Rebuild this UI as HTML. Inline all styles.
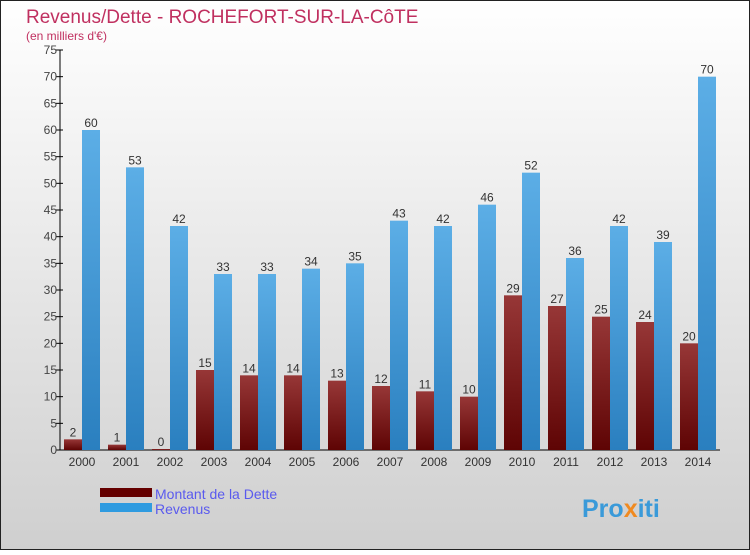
<!DOCTYPE html>
<html><head><meta charset="utf-8"><style>
body{margin:0}
svg text{font-family:"Liberation Sans",sans-serif}
</style></head><body>
<svg width="750" height="550" xmlns="http://www.w3.org/2000/svg">
<defs>
<linearGradient id="bg" x1="0" y1="0" x2="0" y2="1"><stop offset="0" stop-color="#ffffff"/><stop offset="1" stop-color="#cfcfcf"/></linearGradient>
<linearGradient id="gd" x1="0" y1="0" x2="0" y2="1"><stop offset="0" stop-color="#973737"/><stop offset="1" stop-color="#5e0404"/></linearGradient>
<linearGradient id="gr" x1="0" y1="0" x2="0" y2="1"><stop offset="0" stop-color="#5caee6"/><stop offset="1" stop-color="#2a7fbf"/></linearGradient>
</defs>
<rect x="0.5" y="0.5" width="749" height="549" fill="url(#bg)" stroke="#222"/>
<text x="26" y="23" font-size="19" fill="#c03060">Revenus/Dette - ROCHEFORT-SUR-LA-CôTE</text>
<text x="26" y="40" font-size="12" fill="#c03060">(en milliers d'€)</text>
<g id="axes"></g>
<g id="bars"></g>
<rect x="100" y="488" width="52" height="9" fill="#650000"/>
<text x="155" y="499" font-size="14" fill="#5a5aee">Montant de la Dette</text>
<rect x="100" y="503" width="52" height="9" fill="#2f9be0"/>
<text x="155" y="514" font-size="14" fill="#5a5aee">Revenus</text>
<text x="582" y="517" font-size="25" font-weight="bold" fill="#3a9ad9">Pro<tspan fill="#f08a20">x</tspan>iti</text>
</svg>
<script>
const categories=["2000","2001","2002","2003","2004","2005","2006","2007","2008","2009","2010","2011","2012","2013","2014"];
const debt=[2,1,0,15,14,14,13,12,11,10,29,27,25,24,20];
const revenue=[60,53,42,33,33,34,35,43,42,46,52,36,42,39,70];
const yTicks=[0,5,10,15,20,25,30,35,40,45,50,55,60,65,70,75];
const NS="http://www.w3.org/2000/svg";
const x0=60,gw=44,y0=450,ppu=400/75;
const y=v=>y0-v*ppu;
const ax=document.getElementById('axes'),bg=document.getElementById('bars');
function mk(p,t,a){const e=document.createElementNS(NS,t);for(const k in a)e.setAttribute(k,a[k]);p.appendChild(e);return e;}
let l=mk(ax,'line',{x1:x0,y1:50,x2:x0,y2:y0,stroke:'#000'});


l=mk(ax,'line',{x1:x0-4,y1:y0,x2:x0+gw*categories.length,y2:y0,stroke:'#000'});


yTicks.forEach(v=>{
 mk(ax,'line',{x1:x0-4,y1:y(v),x2:x0+3,y2:y(v),stroke:'#000'});
 const t=mk(ax,'text',{x:x0-3,y:y(v)+4,'font-size':12,fill:'#444','text-anchor':'end'});
 t.textContent=v;
 
 
});
categories.forEach((c,i)=>{
 const gx=x0+gw*i+4;
 const t=mk(ax,'text',{x:gx+18,y:466,'font-size':12,fill:'#333','text-anchor':'middle'});
 t.textContent=c;
 
 
 const d=Math.max(debt[i]*ppu,1);
 const b1=mk(bg,'rect',{x:gx,y:y0-d,width:18,height:d,fill:'url(#gd)'});
 
 
 const b2=mk(bg,'rect',{x:gx+18,y:y(revenue[i]),width:18,height:revenue[i]*ppu,fill:'url(#gr)'});
 
 
 const v1=mk(bg,'text',{x:gx+9,y:y0-d-3,'font-size':12,fill:'#333','text-anchor':'middle'});
 v1.textContent=debt[i];
 
 
 const v2=mk(bg,'text',{x:gx+27,y:y(revenue[i])-3,'font-size':12,fill:'#333','text-anchor':'middle'});
 v2.textContent=revenue[i];
 
 
});
</script>
</body></html>
